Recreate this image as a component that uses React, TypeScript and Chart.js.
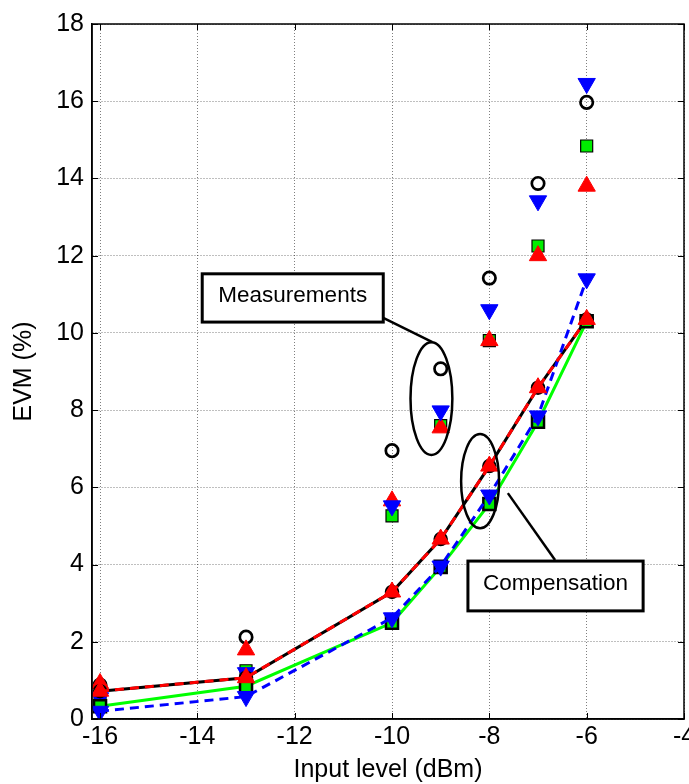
import React, { useEffect, useRef } from "react";
import { Chart, registerables } from "chart.js";

Chart.register(...registerables);

// Input level (dBm)
const xLevels = [-16, -13, -10, -9, -8, -7, -6];

// Measurements (markers only)
const measCircle = [0.88, 2.12, 6.95, 9.07, 11.42, 13.87, 15.97];
const measBlue = [0.55, 1.2, 5.52, 7.98, 10.6, 13.42, 16.46];
const measGreen = [0.4, 1.25, 5.26, 7.6, 9.8, 12.25, 14.84];
const measRed = [0.92, 1.79, 5.65, 7.54, 9.8, 12.0, 13.8];

// Compensation (lines with markers)
const compBlack = [0.72, 1.07, 3.29, 4.66, 6.55, 8.58, 10.35];
const compRed = [0.72, 1.07, 3.29, 4.66, 6.55, 8.58, 10.35];
const compGreen = [0.33, 0.85, 2.49, 3.94, 5.57, 7.7, 10.3];
const compBlue = [0.2, 0.58, 2.62, 3.96, 5.8, 7.85, 11.4];

const xTicks = [-16, -14, -12, -10, -8, -6, -4];
const yTicks = [0, 2, 4, 6, 8, 10, 12, 14, 16, 18];

const xMin = -16.165;
const xMax = -4;
const yMin = 0;
const yMax = 18;

const FONT = "'Liberation Sans', Arial, Helvetica, sans-serif";

const pts = (ys: number[]) => xLevels.map((x, i) => ({ x, y: ys[i] }));

const zeroPadding = (scale: any) => {
  scale.paddingLeft = 0;
  scale.paddingRight = 0;
  scale.paddingTop = 0;
  scale.paddingBottom = 0;
};

const annotationPlugin = {
  id: "matlabDecor",
  afterDatasetsDraw(chart: any) {
    const { ctx, chartArea } = chart;
    const xs = chart.scales.x;
    const ys = chart.scales.y;
    const px = (v: number) => xs.getPixelForValue(v);
    const py = (v: number) => ys.getPixelForValue(v);
    const { left, right, top, bottom } = chartArea;

    ctx.save();
    ctx.strokeStyle = "#000";
    ctx.lineWidth = 1.5;
    ctx.strokeRect(left, top, right - left, bottom - top);

    ctx.lineWidth = 1;
    const tl = 6;
    ctx.beginPath();
    xTicks.forEach((v) => {
      const x = Math.round(px(v)) + 0.5;
      ctx.moveTo(x, bottom);
      ctx.lineTo(x, bottom - tl);
      ctx.moveTo(x, top);
      ctx.lineTo(x, top + tl);
    });
    yTicks.forEach((v) => {
      const y = Math.round(py(v)) + 0.5;
      ctx.moveTo(left, y);
      ctx.lineTo(left + tl, y);
      ctx.moveTo(right, y);
      ctx.lineTo(right - tl, y);
    });
    ctx.stroke();

    ctx.lineWidth = 2.5;
    const ellipse = (cx: number, cy: number, rx: number, ry: number) => {
      const x = px(cx);
      const y = py(cy);
      const rxp = Math.abs(px(cx + rx) - x);
      const ryp = Math.abs(py(cy + ry) - y);
      ctx.beginPath();
      ctx.ellipse(x, y, rxp, ryp, 0, 0, Math.PI * 2);
      ctx.stroke();
    };
    ellipse(-9.19, 8.3, 0.43, 1.46);
    ellipse(-8.19, 6.16, 0.39, 1.22);

    const line = (x1: number, y1: number, x2: number, y2: number) => {
      ctx.beginPath();
      ctx.moveTo(px(x1), py(y1));
      ctx.lineTo(px(x2), py(y2));
      ctx.stroke();
    };
    line(-10.18, 10.39, -9.17, 9.76);
    line(-7.62, 5.85, -6.65, 4.12);

    const box = (x1: number, y1: number, x2: number, y2: number, text: string) => {
      const X1 = px(x1);
      const Y1 = py(y1);
      const X2 = px(x2);
      const Y2 = py(y2);
      ctx.fillStyle = "#fff";
      ctx.fillRect(X1, Y1, X2 - X1, Y2 - Y1);
      ctx.lineWidth = 3;
      ctx.strokeStyle = "#000";
      ctx.strokeRect(X1, Y1, X2 - X1, Y2 - Y1);
      ctx.fillStyle = "#000";
      ctx.font = `22.5px ${FONT}`;
      ctx.textAlign = "center";
      ctx.textBaseline = "middle";
      ctx.fillText(text, (X1 + X2) / 2, (Y1 + Y2) / 2 - 2);
    };
    box(-13.9, 11.53, -10.18, 10.28, "Measurements");
    box(-8.44, 4.09, -4.84, 2.8, "Compensation");
    ctx.restore();
  },
};

export default function App() {
  const ref = useRef<HTMLCanvasElement | null>(null);

  useEffect(() => {
    if (!ref.current) return;
    const chart = new Chart(ref.current, {
      type: "scatter",
      data: {
        datasets: [
          {
            label: "Comp red",
            data: pts(compRed),
            showLine: true,
            borderColor: "#ff0000",
            borderWidth: 3,
            borderDash: [9, 6],
            pointStyle: "triangle",
            pointRadius: 10,
            pointBackgroundColor: "#ff0000",
            pointBorderColor: "#ff0000",
            pointBorderWidth: 1,
          },
          {
            label: "Comp blue",
            data: pts(compBlue),
            showLine: true,
            borderColor: "#0000ff",
            borderWidth: 3,
            borderDash: [9, 6],
            pointStyle: "triangle",
            pointRotation: 180,
            pointRadius: 10,
            pointBackgroundColor: "#0000ff",
            pointBorderColor: "#0000ff",
            pointBorderWidth: 1,
          },
          {
            label: "Comp green",
            data: pts(compGreen),
            showLine: true,
            borderColor: "#00ff00",
            borderWidth: 3,
            pointStyle: "rect",
            pointRadius: 8.5,
            pointBackgroundColor: "#00ee00",
            pointBorderColor: "#000",
            pointBorderWidth: 2.5,
          },
          {
            label: "Comp black",
            data: pts(compBlack),
            showLine: true,
            borderColor: "#000",
            borderWidth: 3,
            pointStyle: "circle",
            pointRadius: 6,
            pointBackgroundColor: "rgba(0,0,0,0)",
            pointBorderColor: "#000",
            pointBorderWidth: 2.5,
          },
          {
            label: "Meas blue",
            data: pts(measBlue),
            showLine: false,
            pointStyle: "triangle",
            pointRotation: 180,
            pointRadius: 10,
            pointBackgroundColor: "#0000ff",
            pointBorderColor: "#0000ff",
            pointBorderWidth: 1,
          },
          {
            label: "Meas red",
            data: pts(measRed),
            showLine: false,
            pointStyle: "triangle",
            pointRadius: 10,
            pointBackgroundColor: "#ff0000",
            pointBorderColor: "#ff0000",
            pointBorderWidth: 1,
          },
          {
            label: "Meas green",
            data: pts(measGreen),
            showLine: false,
            pointStyle: "rect",
            pointRadius: 8.5,
            pointBackgroundColor: "#00ee00",
            pointBorderColor: "#000",
            pointBorderWidth: 1.2,
          },
          {
            label: "Meas circle",
            data: pts(measCircle),
            showLine: false,
            pointStyle: "circle",
            pointRadius: 6.2,
            pointBackgroundColor: "rgba(255,255,255,0)",
            pointBorderColor: "#000",
            pointBorderWidth: 2.7,
          },
        ],
      },
      options: {
        responsive: false,
        animation: false,
        events: [],
        layout: { autoPadding: false, padding: { top: 24, right: 5, left: 0, bottom: 0 } },
        plugins: {
          legend: { display: false },
          tooltip: { enabled: false },
          title: { display: false },
        },
        scales: {
          x: {
            type: "linear",
            min: xMin,
            max: xMax,
            afterBuildTicks: (scale: any) => {
              scale.ticks = xTicks.map((v) => ({ value: v }));
            },
            afterFit: (scale: any) => {
              scale.height = 65;
              zeroPadding(scale);
            },
            ticks: {
              color: "#000",
              font: { family: FONT, size: 25 },
              padding: 3,
              maxRotation: 0,
              autoSkip: false,
            },
            grid: {
              color: "rgba(0,0,0,0.5)",
              lineWidth: 1,
              drawTicks: false,
            },
            border: { display: true, color: "#000", width: 1.5, dash: [1, 2] },
            title: {
              display: true,
              text: "Input level (dBm)",
              color: "#000",
              font: { family: FONT, size: 25 },
              padding: { top: 0, bottom: -1 },
            },
          },
          y: {
            type: "linear",
            min: yMin,
            max: yMax,
            afterBuildTicks: (scale: any) => {
              scale.ticks = yTicks.map((v) => ({ value: v }));
            },
            afterFit: (scale: any) => {
              scale.width = 92;
              zeroPadding(scale);
            },
            ticks: {
              color: "#000",
              font: { family: FONT, size: 25 },
              padding: 8,
              autoSkip: false,
            },
            grid: {
              color: "rgba(0,0,0,0.5)",
              lineWidth: 1,
              drawTicks: false,
            },
            border: { display: true, color: "#000", width: 1.5, dash: [1, 2] },
            title: {
              display: true,
              text: "EVM (%)",
              color: "#000",
              font: { family: FONT, size: 25 },
              padding: { top: 9, bottom: 0 },
            },
          },
        },
      },
      plugins: [annotationPlugin],
    });
    return () => chart.destroy();
  }, []);

  return (
    <div style={{ position: "absolute", left: 0, top: 0, width: 689, height: 784, background: "#fff" }}>
      <canvas ref={ref} width={689} height={784} style={{ width: 689, height: 784, display: "block" }} />
    </div>
  );
}
